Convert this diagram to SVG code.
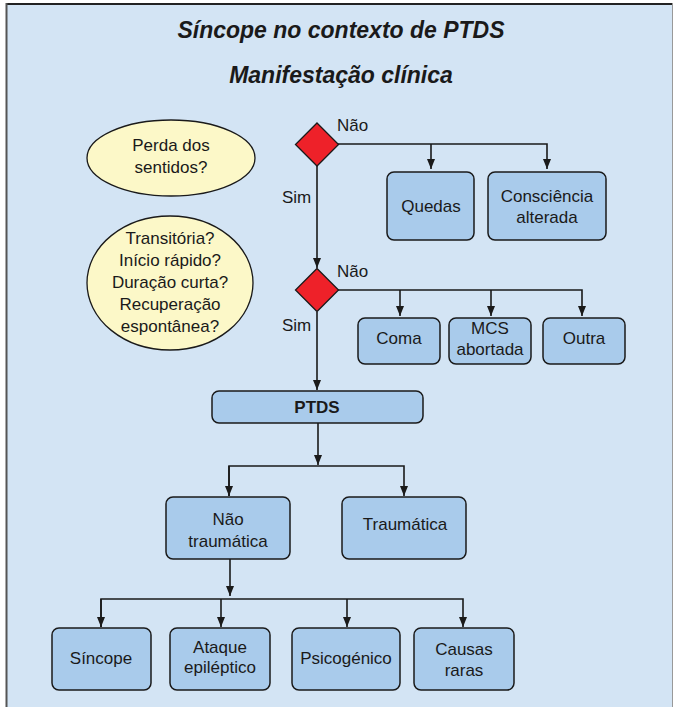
<svg xmlns="http://www.w3.org/2000/svg" width="673" height="707" viewBox="0 0 673 707">
<style>
text{font-family:"Liberation Sans",Arial,sans-serif;font-size:17px;fill:#1a1a1a;text-anchor:middle}
.title{font-weight:bold;font-style:italic;font-size:23px}
.box{fill:#a9cbeb;stroke:#1a1a1a;stroke-width:1.5}
.dia{fill:#ee2129;stroke:#1a1a1a;stroke-width:1.3}
.ell{fill:#fcf8c8;stroke:#1a1a1a;stroke-width:1.3}
.lbl{text-anchor:start}
#connectors path{fill:none;stroke:#1a1a1a;stroke-width:1.6}
</style>
<defs>
<marker id="ah" viewBox="0 0 10 8" refX="10" refY="4" markerWidth="10" markerHeight="8" markerUnits="userSpaceOnUse" orient="auto">
<path d="M0,0 L10,4 L0,8 z" fill="#1a1a1a"/>
</marker>
</defs>
<rect x="6" y="3" width="667" height="704" fill="#d3e4f4"/>
<line x1="6" y1="4" x2="673" y2="4" stroke="#222" stroke-width="2"/>
<line x1="6.5" y1="3" x2="6.5" y2="707" stroke="#555" stroke-width="2"/>
<line x1="672.5" y1="3" x2="672.5" y2="707" stroke="#999" stroke-width="1"/>

<text class="title" x="341" y="38">Síncope no contexto de PTDS</text>
<text class="title" x="341" y="83">Manifestação clínica</text>

<g id="connectors">
<path d="M338,144 H547 V169" marker-end="url(#ah)"/>
<path d="M431,144 V169" marker-end="url(#ah)"/>
<path d="M317,166 V268" marker-end="url(#ah)"/>
<path d="M338,290 H582 V316" marker-end="url(#ah)"/>
<path d="M400,290 V316" marker-end="url(#ah)"/>
<path d="M491,290 V316" marker-end="url(#ah)"/>
<path d="M317,312 V390" marker-end="url(#ah)"/>
<path d="M318,423 V465" marker-end="url(#ah)"/>
<path d="M229,496 V466 H404 V496" marker-start="none" marker-end="url(#ah)"/>
<path d="M229,466 V496" marker-end="url(#ah)"/>
<path d="M230,559 V596" marker-end="url(#ah)"/>
<path d="M101,627 V599 H463 V627" marker-end="url(#ah)"/>
<path d="M101,599 V627" marker-end="url(#ah)"/>
<path d="M221,599 V627" marker-end="url(#ah)"/>
<path d="M347,599 V627" marker-end="url(#ah)"/>
<text class="lbl" x="337" y="131">Não</text>
<text class="lbl" x="337" y="277">Não</text>
<text class="lbl" x="282" y="203">Sim</text>
<text class="lbl" x="282" y="331">Sim</text>
</g>

<g id="q1">
<ellipse class="ell" cx="171" cy="158" rx="84" ry="38"/>
<text x="171" y="151">Perda dos</text>
<text x="171" y="173">sentidos?</text>
</g>
<g id="q2">
<ellipse class="ell" cx="170" cy="283" rx="83" ry="67"/>
<text x="170" y="244">Transitória?</text>
<text x="170" y="266">Início rápido?</text>
<text x="170" y="288">Duração curta?</text>
<text x="170" y="310">Recuperação</text>
<text x="170" y="332">espontânea?</text>
</g>

<g id="d1"><path class="dia" d="M317,123 L338.5,144.5 L317,166 L295.5,144.5 z"/></g>
<g id="d2"><path class="dia" d="M317,268.5 L338.5,290 L317,311.5 L295.5,290 z"/></g>

<g id="quedas"><rect class="box" x="387" y="172" width="87" height="68" rx="7"/><text x="431" y="212">Quedas</text></g>
<g id="consc"><rect class="box" x="488" y="172" width="118" height="68" rx="7"/><text x="547" y="202">Consciência</text><text x="547" y="223">alterada</text></g>

<g id="coma"><rect class="box" x="358" y="318" width="82" height="46" rx="7"/><text x="399" y="344">Coma</text></g>
<g id="mcs"><rect class="box" x="449" y="318" width="82" height="46" rx="7"/><text x="490" y="334">MCS</text><text x="490" y="355">abortada</text></g>
<g id="outra"><rect class="box" x="543" y="318" width="82" height="46" rx="7"/><text x="584" y="344">Outra</text></g>

<g id="ptds"><rect class="box" x="212" y="391" width="211" height="32" rx="7"/><text x="317" y="413" style="font-weight:bold">PTDS</text></g>

<g id="naotraum"><rect class="box" x="166" y="497" width="124" height="62" rx="7"/><text x="228" y="525">Não</text><text x="228" y="547">traumática</text></g>
<g id="traum"><rect class="box" x="342" y="497" width="124" height="62" rx="7"/><text x="405" y="530">Traumática</text></g>

<g id="sincope"><rect class="box" x="52" y="628" width="99" height="62" rx="7"/><text x="101" y="664">Síncope</text></g>
<g id="ataque"><rect class="box" x="170" y="628" width="100" height="62" rx="7"/><text x="220" y="653">Ataque</text><text x="220" y="673">epiléptico</text></g>
<g id="psico"><rect class="box" x="292" y="628" width="108" height="62" rx="7"/><text x="346" y="664">Psicogénico</text></g>
<g id="causas"><rect class="box" x="414" y="628" width="100" height="62" rx="7"/><text x="464" y="655">Causas</text><text x="464" y="676">raras</text></g>
</svg>
